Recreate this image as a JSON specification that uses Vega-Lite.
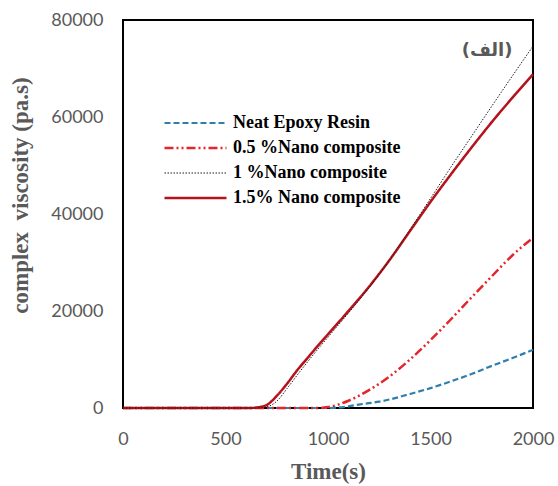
{
  "$schema": "https://vega.github.io/schema/vega-lite/v6.json",
  "width": 410,
  "height": 388,
  "autosize": {"type": "none"},
  "padding": {"left": 123, "top": 20, "right": 25, "bottom": 78},
  "background": "white",
  "config": {
    "view": {"stroke": "black", "strokeWidth": 2},
    "axis": {
      "grid": false, "ticks": false, "tickSize": 0, "domain": false, "labelFlush": false,
      "labelFont": "Lato", "labelFontSize": 18, "labelColor": "#595959",
      "titleFont": "Liberation Serif", "titleFontWeight": "bold", "titleColor": "#595959"
    },
    "legend": {
      "title": null, "orient": "none", "legendX": 40, "legendY": 93,
      "symbolType": "stroke", "symbolSize": 3844, "labelOffset": 5,
      "labelFont": "Liberation Serif", "labelFontWeight": "bold",
      "labelFontSize": 18, "labelColor": "black", "padding": 0,
      "clipHeight": 20, "rowPadding": 5, "labelLimit": 400
    }
  },
  "datasets": {
    "curves": [
      {"time": 0, "visc": 0, "series": "Neat Epoxy Resin"},
      {"time": 1000, "visc": 0, "series": "Neat Epoxy Resin"},
      {"time": 1050, "visc": 100, "series": "Neat Epoxy Resin"},
      {"time": 1100, "visc": 350, "series": "Neat Epoxy Resin"},
      {"time": 1150, "visc": 700, "series": "Neat Epoxy Resin"},
      {"time": 1200, "visc": 1000, "series": "Neat Epoxy Resin"},
      {"time": 1250, "visc": 1300, "series": "Neat Epoxy Resin"},
      {"time": 1300, "visc": 1750, "series": "Neat Epoxy Resin"},
      {"time": 1400, "visc": 2900, "series": "Neat Epoxy Resin"},
      {"time": 1500, "visc": 4100, "series": "Neat Epoxy Resin"},
      {"time": 1600, "visc": 5500, "series": "Neat Epoxy Resin"},
      {"time": 1700, "visc": 7000, "series": "Neat Epoxy Resin"},
      {"time": 1800, "visc": 8700, "series": "Neat Epoxy Resin"},
      {"time": 1900, "visc": 10300, "series": "Neat Epoxy Resin"},
      {"time": 2000, "visc": 12000, "series": "Neat Epoxy Resin"},
      {"time": 0, "visc": 0, "series": "0.5 %Nano composite"},
      {"time": 950, "visc": 0, "series": "0.5 %Nano composite"},
      {"time": 1000, "visc": 200, "series": "0.5 %Nano composite"},
      {"time": 1050, "visc": 700, "series": "0.5 %Nano composite"},
      {"time": 1100, "visc": 1500, "series": "0.5 %Nano composite"},
      {"time": 1150, "visc": 2500, "series": "0.5 %Nano composite"},
      {"time": 1200, "visc": 3700, "series": "0.5 %Nano composite"},
      {"time": 1250, "visc": 5000, "series": "0.5 %Nano composite"},
      {"time": 1300, "visc": 6500, "series": "0.5 %Nano composite"},
      {"time": 1400, "visc": 10000, "series": "0.5 %Nano composite"},
      {"time": 1500, "visc": 14000, "series": "0.5 %Nano composite"},
      {"time": 1600, "visc": 18300, "series": "0.5 %Nano composite"},
      {"time": 1700, "visc": 22800, "series": "0.5 %Nano composite"},
      {"time": 1800, "visc": 27200, "series": "0.5 %Nano composite"},
      {"time": 1900, "visc": 31500, "series": "0.5 %Nano composite"},
      {"time": 2000, "visc": 35100, "series": "0.5 %Nano composite"},
      {"time": 0, "visc": 0, "series": "1.5% Nano composite"},
      {"time": 620, "visc": 0, "series": "1.5% Nano composite"},
      {"time": 650, "visc": 100, "series": "1.5% Nano composite"},
      {"time": 700, "visc": 600, "series": "1.5% Nano composite"},
      {"time": 750, "visc": 2500, "series": "1.5% Nano composite"},
      {"time": 800, "visc": 5000, "series": "1.5% Nano composite"},
      {"time": 850, "visc": 7800, "series": "1.5% Nano composite"},
      {"time": 900, "visc": 10300, "series": "1.5% Nano composite"},
      {"time": 950, "visc": 12800, "series": "1.5% Nano composite"},
      {"time": 1000, "visc": 15200, "series": "1.5% Nano composite"},
      {"time": 1100, "visc": 20000, "series": "1.5% Nano composite"},
      {"time": 1200, "visc": 25000, "series": "1.5% Nano composite"},
      {"time": 1300, "visc": 30500, "series": "1.5% Nano composite"},
      {"time": 1400, "visc": 36500, "series": "1.5% Nano composite"},
      {"time": 1500, "visc": 42500, "series": "1.5% Nano composite"},
      {"time": 1600, "visc": 48200, "series": "1.5% Nano composite"},
      {"time": 1700, "visc": 53700, "series": "1.5% Nano composite"},
      {"time": 1800, "visc": 59000, "series": "1.5% Nano composite"},
      {"time": 1900, "visc": 64000, "series": "1.5% Nano composite"},
      {"time": 2000, "visc": 68800, "series": "1.5% Nano composite"},
      {"time": 0, "visc": 0, "series": "1 %Nano composite"},
      {"time": 660, "visc": 0, "series": "1 %Nano composite"},
      {"time": 700, "visc": 200, "series": "1 %Nano composite"},
      {"time": 750, "visc": 1400, "series": "1 %Nano composite"},
      {"time": 800, "visc": 4000, "series": "1 %Nano composite"},
      {"time": 850, "visc": 6800, "series": "1 %Nano composite"},
      {"time": 900, "visc": 9500, "series": "1 %Nano composite"},
      {"time": 950, "visc": 12100, "series": "1 %Nano composite"},
      {"time": 1000, "visc": 14600, "series": "1 %Nano composite"},
      {"time": 1100, "visc": 19600, "series": "1 %Nano composite"},
      {"time": 1200, "visc": 24800, "series": "1 %Nano composite"},
      {"time": 1300, "visc": 30500, "series": "1 %Nano composite"},
      {"time": 1400, "visc": 36800, "series": "1 %Nano composite"},
      {"time": 1500, "visc": 43200, "series": "1 %Nano composite"},
      {"time": 1600, "visc": 49700, "series": "1 %Nano composite"},
      {"time": 1700, "visc": 56000, "series": "1 %Nano composite"},
      {"time": 1800, "visc": 62300, "series": "1 %Nano composite"},
      {"time": 1900, "visc": 68500, "series": "1 %Nano composite"},
      {"time": 2000, "visc": 74600, "series": "1 %Nano composite"}
    ],
    "label": [
      {"time": 1776, "visc": 73600, "text": "(الف)"}
    ]
  },
  "layer": [
    {
      "data": {"name": "curves"},
      "mark": {"type": "line", "interpolate": "monotone"},
      "encoding": {
        "x": {
          "field": "time", "type": "quantitative",
          "scale": {"domain": [0, 2000], "nice": false},
          "axis": {
            "values": [0, 500, 1000, 1500, 2000], "format": "d",
            "labelPadding": 22, "title": "Time(s)", "titleFontSize": 23,
            "titleBaseline": "alphabetic", "titleY": 70
          }
        },
        "y": {
          "field": "visc", "type": "quantitative",
          "scale": {"domain": [0, 80000], "nice": false},
          "axis": {
            "values": [0, 20000, 40000, 60000, 80000], "format": "d",
            "labelPadding": 20, "title": "complex\u00a0 viscosity (pa.s)",
            "titleFontSize": 23, "titleX": -91, "titleY": 175
          }
        },
        "color": {
          "field": "series", "type": "nominal",
          "scale": {
            "domain": ["Neat Epoxy Resin", "0.5 %Nano composite", "1 %Nano composite", "1.5% Nano composite"],
            "range": ["#2f7fab", "#e3262b", "#1a1a1a", "#b5121b"]
          }
        },
        "strokeDash": {
          "field": "series", "type": "nominal",
          "scale": {
            "domain": ["Neat Epoxy Resin", "0.5 %Nano composite", "1 %Nano composite", "1.5% Nano composite"],
            "range": [[6, 3], [9, 3, 2, 3, 2, 3], [1.5, 1.5], [1, 0]]
          }
        },
        "strokeWidth": {
          "field": "series", "type": "nominal",
          "scale": {
            "type": "ordinal",
            "domain": ["Neat Epoxy Resin", "0.5 %Nano composite", "1 %Nano composite", "1.5% Nano composite"],
            "range": [2.2, 2.5, 1, 2.5]
          }
        }
      }
    },
    {
      "data": {"name": "label"},
      "mark": {"type": "text", "font": "DejaVu Sans", "fontWeight": "bold", "fontSize": 18, "color": "#595959"},
      "encoding": {
        "x": {"field": "time", "type": "quantitative"},
        "y": {"field": "visc", "type": "quantitative"},
        "text": {"field": "text"}
      }
    }
  ]
}
